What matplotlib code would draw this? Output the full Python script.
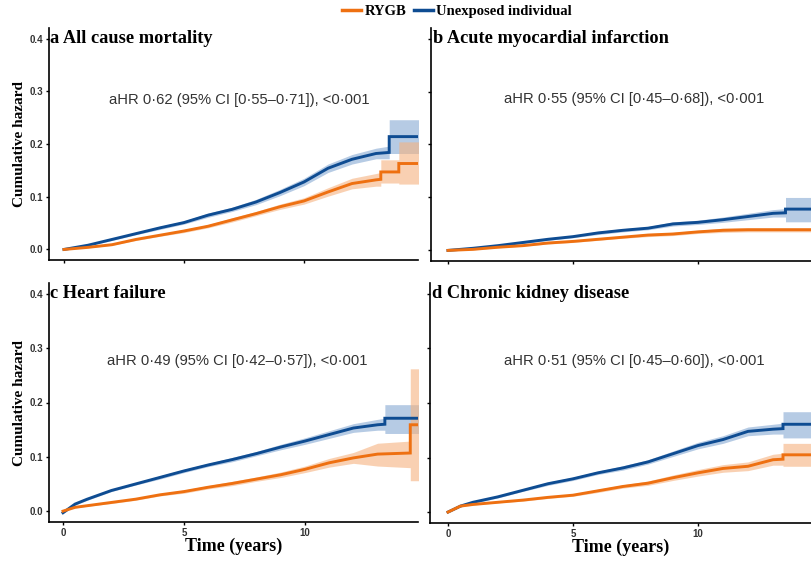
import matplotlib
matplotlib.use('Agg')
import matplotlib.pyplot as plt
from matplotlib.lines import Line2D

SERIF = 'Liberation Serif'
SANS = 'Liberation Sans'
ORANGE = '#EE7011'
BLUE = '#0E4C92'
BAND_ORANGE = '#F6B27F'
BAND_BLUE = '#8FAFD6'

########## panel a: all cause mortality ##########
a_t_unexp = [0, 1, 2, 3, 4, 5, 6, 7, 8, 9, 10, 11, 12, 13, 13.55, 13.55, 14.9]
a_unexp = [0, .008, .019, .030, .041, .051, .065, .076, .090, .108, .128, .154, .171, .182, .184, .214, .214]
a_unexp_lo = [0, .007, .017, .028, .038, .048, .061, .072, .085, .102, .121, .146, .162, .172, .172, .182, .182]
a_unexp_hi = [0, .009, .021, .032, .044, .054, .069, .080, .095, .114, .135, .162, .180, .192, .196, .246, .246]
a_t_rygb = [0, 1, 2, 3, 4, 5, 6, 7, 8, 9, 10, 11, 12, 13, 13.2, 13.2, 13.95, 13.95, 14.9]
a_rygb = [0, .004, .009, .019, .027, .035, .044, .056, .068, .081, .092, .109, .125, .132, .133, .147, .147, .163, .163]
a_rygb_lo = [0, .003, .008, .017, .025, .032, .041, .052, .064, .076, .086, .101, .115, .120, .120, .126, .126, .124, .124]
a_rygb_hi = [0, .005, .010, .021, .029, .038, .047, .060, .072, .086, .098, .117, .135, .144, .146, .170, .170, .204, .204]

########## panel b: acute myocardial infarction ##########
b_t_unexp = [0, 1, 2, 3, 4, 5, 6, 7, 8, 9, 10, 11, 12, 13, 13.5, 13.5, 14.9]
b_unexp = [0, .004, .009, .015, .021, .026, .033, .038, .042, .050, .053, .058, .064, .070, .071, .078, .078]
b_unexp_lo = [0, .003, .008, .013, .019, .024, .030, .035, .039, .046, .049, .053, .058, .063, .063, .054, .054]
b_unexp_hi = [0, .005, .010, .017, .023, .028, .036, .041, .045, .054, .057, .063, .070, .077, .079, .100, .100]
b_t_rygb = [0, 1, 2, 3, 4, 5, 6, 7, 8, 9, 10, 11, 12, 13, 14.9]
b_rygb = [0, .002, .006, .009, .014, .017, .021, .025, .029, .031, .035, .038, .039, .039, .039]
b_rygb_lo = [0, .001, .005, .008, .012, .015, .019, .023, .026, .028, .032, .034, .035, .035, .035]
b_rygb_hi = [0, .003, .007, .010, .016, .019, .023, .027, .032, .034, .038, .042, .043, .043, .043]

########## panel c: heart failure ##########
c_t_unexp = [0, 0.5, 1, 2, 3, 4, 5, 6, 7, 8, 9, 10, 11, 12, 13, 13.3, 13.3, 14.9]
c_unexp = [-.003, .013, .022, .038, .050, .062, .074, .085, .095, .106, .118, .129, .141, .153, .159, .160, .171, .171]
c_unexp_lo = [-.004, .011, .020, .036, .048, .059, .071, .082, .091, .102, .113, .123, .134, .145, .149, .149, .143, .143]
c_unexp_hi = [-.002, .015, .024, .040, .052, .065, .077, .088, .099, .110, .123, .135, .148, .161, .169, .171, .196, .196]
c_t_rygb = [0, 0.5, 1, 2, 3, 4, 5, 6, 7, 8, 9, 10, 11, 12, 13, 14.35, 14.35, 14.9]
c_rygb = [0, .007, .010, .016, .022, .030, .036, .044, .051, .059, .067, .077, .089, .098, .105, .107, .159, .159]
c_rygb_lo = [0, .006, .009, .014, .020, .028, .033, .041, .047, .055, .062, .071, .081, .088, .083, .080, .056, .056]
c_rygb_hi = [0, .008, .011, .018, .024, .032, .039, .047, .055, .063, .072, .083, .097, .108, .125, .129, .262, .262]

########## panel d: chronic kidney disease ##########
d_t_unexp = [0, 0.5, 1, 2, 3, 4, 5, 6, 7, 8, 9, 10, 11, 12, 13, 13.4, 13.4, 14.9]
d_unexp = [0, .011, .018, .028, .040, .052, .061, .072, .081, .092, .107, .122, .133, .148, .152, .153, .161, .161]
d_unexp_lo = [0, .010, .016, .026, .038, .049, .058, .069, .077, .088, .102, .116, .126, .140, .143, .143, .136, .136]
d_unexp_hi = [0, .012, .020, .030, .042, .055, .064, .075, .085, .096, .112, .128, .140, .156, .161, .163, .184, .184]
d_t_rygb = [0, 0.5, 1, 2, 3, 4, 5, 6, 7, 8, 9, 10, 11, 12, 13, 13.4, 13.4, 14.9]
d_rygb = [0, .011, .014, .018, .022, .027, .031, .039, .047, .053, .063, .072, .080, .084, .096, .097, .105, .105]
d_rygb_lo = [0, .010, .013, .017, .020, .025, .029, .036, .044, .049, .058, .066, .073, .076, .086, .086, .084, .084]
d_rygb_hi = [0, .012, .015, .019, .024, .029, .033, .042, .050, .057, .068, .078, .087, .092, .106, .108, .126, .126]

titles = ['a All cause mortality', 'b Acute myocardial infarction',
          'c Heart failure', 'd Chronic kidney disease']
hr_texts = ['aHR 0\u00b762 (95% CI [0\u00b755\u20130\u00b771]), <0\u00b7001',
            'aHR 0\u00b755 (95% CI [0\u00b745\u20130\u00b768]), <0\u00b7001',
            'aHR 0\u00b749 (95% CI [0\u00b742\u20130\u00b757]), <0\u00b7001',
            'aHR 0\u00b751 (95% CI [0\u00b745\u20130\u00b760]), <0\u00b7001']
y_ticks = [0.0, 0.1, 0.2, 0.3, 0.4]
x_ticks = [0, 5, 10]

panels = [
    (a_t_unexp, a_unexp, a_unexp_lo, a_unexp_hi, a_t_rygb, a_rygb, a_rygb_lo, a_rygb_hi),
    (b_t_unexp, b_unexp, b_unexp_lo, b_unexp_hi, b_t_rygb, b_rygb, b_rygb_lo, b_rygb_hi),
    (c_t_unexp, c_unexp, c_unexp_lo, c_unexp_hi, c_t_rygb, c_rygb, c_rygb_lo, c_rygb_hi),
    (d_t_unexp, d_unexp, d_unexp_lo, d_unexp_hi, d_t_rygb, d_rygb, d_rygb_lo, d_rygb_hi),
]

W, H = 812, 564
fig = plt.figure(figsize=(W / 100, H / 100), dpi=100)

# pixel boxes: left, top, right, bottom ; x pixel of year 0, px per year
boxes = [(49, 28, 418, 260, 64, 24.0),
         (431, 28, 812, 261, 448, 25.0),
         (49, 283, 418, 522, 63, 24.2),
         (430, 283, 812, 523, 448, 25.0)]
hr_pos = [(7.3, 0.284), (7.45, 0.285), (7.2, 0.276), (7.45, 0.277)]

for i, (l, t, r, b, x0, ppy) in enumerate(boxes):
    ax = fig.add_axes([l / W, 1 - b / H, (r - l) / W, (b - t) / H])
    tu, u, ulo, uhi, tr, rr, rlo, rhi = panels[i]

    ax.fill_between(tu, ulo, uhi, color=BAND_BLUE, alpha=0.65, lw=0, zorder=1)
    ax.fill_between(tr, rlo, rhi, color=BAND_ORANGE, alpha=0.6, lw=0, zorder=1)
    ax.plot(tu, u, color=BLUE, lw=2.1, zorder=3, solid_joinstyle='miter')
    ax.plot(tr, rr, color=ORANGE, lw=2.1, zorder=3, solid_joinstyle='miter')

    ax.set_xlim((l - x0) / ppy, (r - x0) / ppy)
    ax.set_ylim(-0.02, 0.42)
    ax.set_xticks(x_ticks)
    ax.set_yticks(y_ticks)
    for s in ['top', 'right']:
        ax.spines[s].set_visible(False)
    for s in ['left', 'bottom']:
        ax.spines[s].set_linewidth(1.2)
    ax.tick_params(length=2.5, width=1.0, pad=1.5, colors='black',
                   labelcolor='#333333', labelsize=7)
    for lab in ax.get_xticklabels() + ax.get_yticklabels():
        lab.set_fontweight('bold')
        lab.set_fontfamily(SANS)

    if i < 2:
        ax.set_xticklabels([])
    else:
        ax.set_xlabel('Time (years)', fontfamily=SERIF, fontweight='bold',
                      fontsize=13, labelpad=0)
    if i % 2 == 1:
        ax.set_yticklabels([])
    else:
        ax.set_ylabel('Cumulative hazard', fontfamily=SERIF, fontweight='bold',
                      fontsize=11, labelpad=3)

    ax.text(0.004, 0.99, titles[i], transform=ax.transAxes, ha='left', va='top',
            fontfamily=SERIF, fontweight='bold', fontsize=13.2)
    ax.text(hr_pos[i][0], hr_pos[i][1], hr_texts[i], ha='center', va='center',
            fontfamily=SANS, fontsize=10.6, color='#333333')

handles = [Line2D([0], [0], color=ORANGE, lw=2.5),
           Line2D([0], [0], color=BLUE, lw=2.5)]
fig.legend(handles, ['RYGB', 'Unexposed individual'], loc='center',
           bbox_to_anchor=(0.563, 0.979), ncol=2, frameon=False,
           prop={'family': SERIF, 'weight': 'bold', 'size': 10.5},
           handlelength=1.3, handletextpad=0.25, columnspacing=0.5,
           borderaxespad=0, borderpad=0)

fig.savefig('out.png', dpi=100)
